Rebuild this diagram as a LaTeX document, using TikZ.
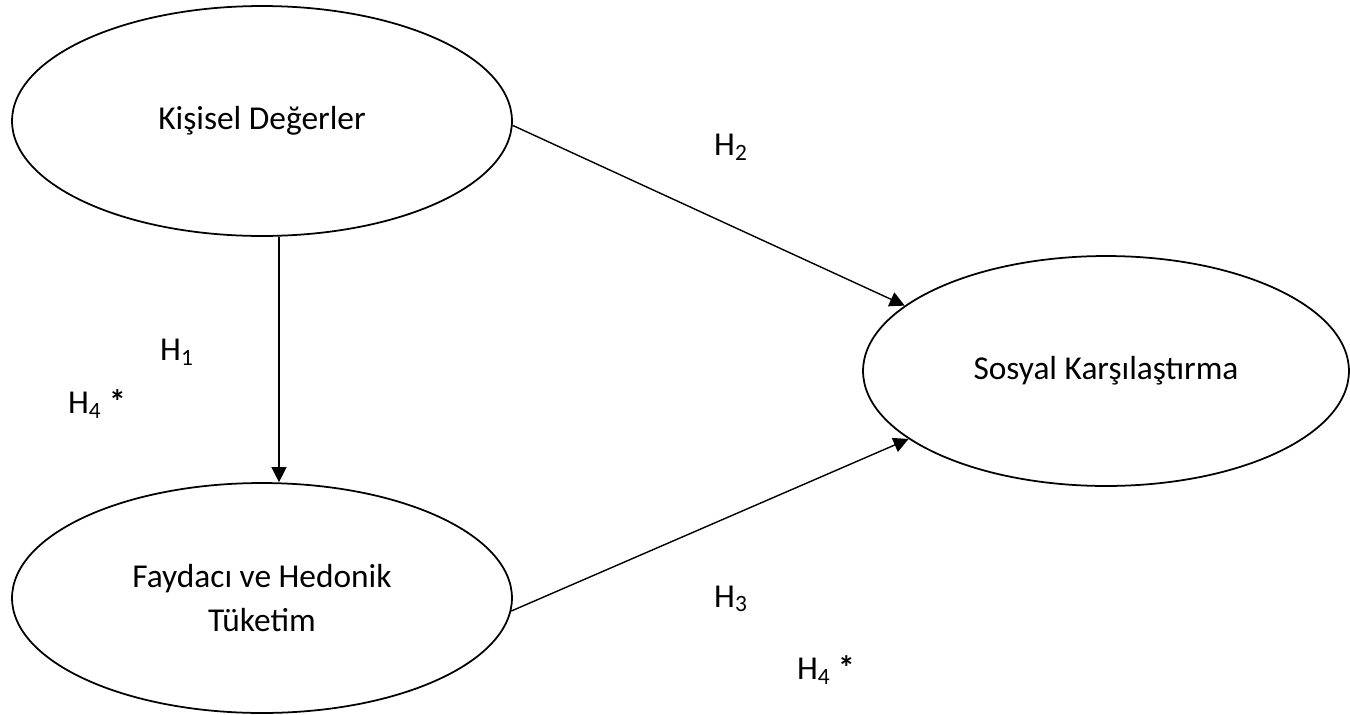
\documentclass[tikz,border=0pt]{standalone}
\usepackage{fontspec}
\setmainfont{Carlito}
\usetikzlibrary{shapes.geometric, arrows.meta}

\begin{document}
\begin{tikzpicture}[x=0.02cm, y=-0.02cm,
    construct/.style={shape=ellipse,draw=black,line width=1pt,inner sep=0pt,
        minimum width=10cm,minimum height=4.6cm,align=center,
        font=\fontsize{19}{25}\selectfont},
    hyp/.style={font=\fontsize{19}{23}\selectfont},
    link/.style={line width=0.8pt,-{Triangle[length=0.3cm,width=0.3cm]}}]
    \useasboundingbox (0,0) rectangle (1350,714);
    % Define nodes
    \node[construct] (kd) at (262,121) {Kişisel Değerler};
    \node[construct] (fh) at (262,598) {Faydacı ve Hedonik\\Tüketim};
    \node[construct,minimum width=9.72cm] (sk) at (1106,371) {Sosyal Karşılaştırma};
    % Hypothesis labels
    \node[hyp] (h1) at (177,352) {H\textsubscript{1}};
    \node[hyp] (h4a) at (97,404) {H\textsubscript{4} \textbf{*}};
    \node[hyp] (h2) at (731,147) {H\textsubscript{2}};
    \node[hyp] (h3) at (731,599) {H\textsubscript{3}};
    \node[hyp] (h4b) at (826,670) {H\textsubscript{4} \textbf{*}};
    % Draw edges
    \draw[link] ([xshift=0.34cm]kd.south) -- ([xshift=0.34cm]fh.north);
    \draw[link] (kd.-1) -- (sk.162);
    \draw[link] (fh.-3) -- (sk.199);

\end{tikzpicture}
\end{document}
